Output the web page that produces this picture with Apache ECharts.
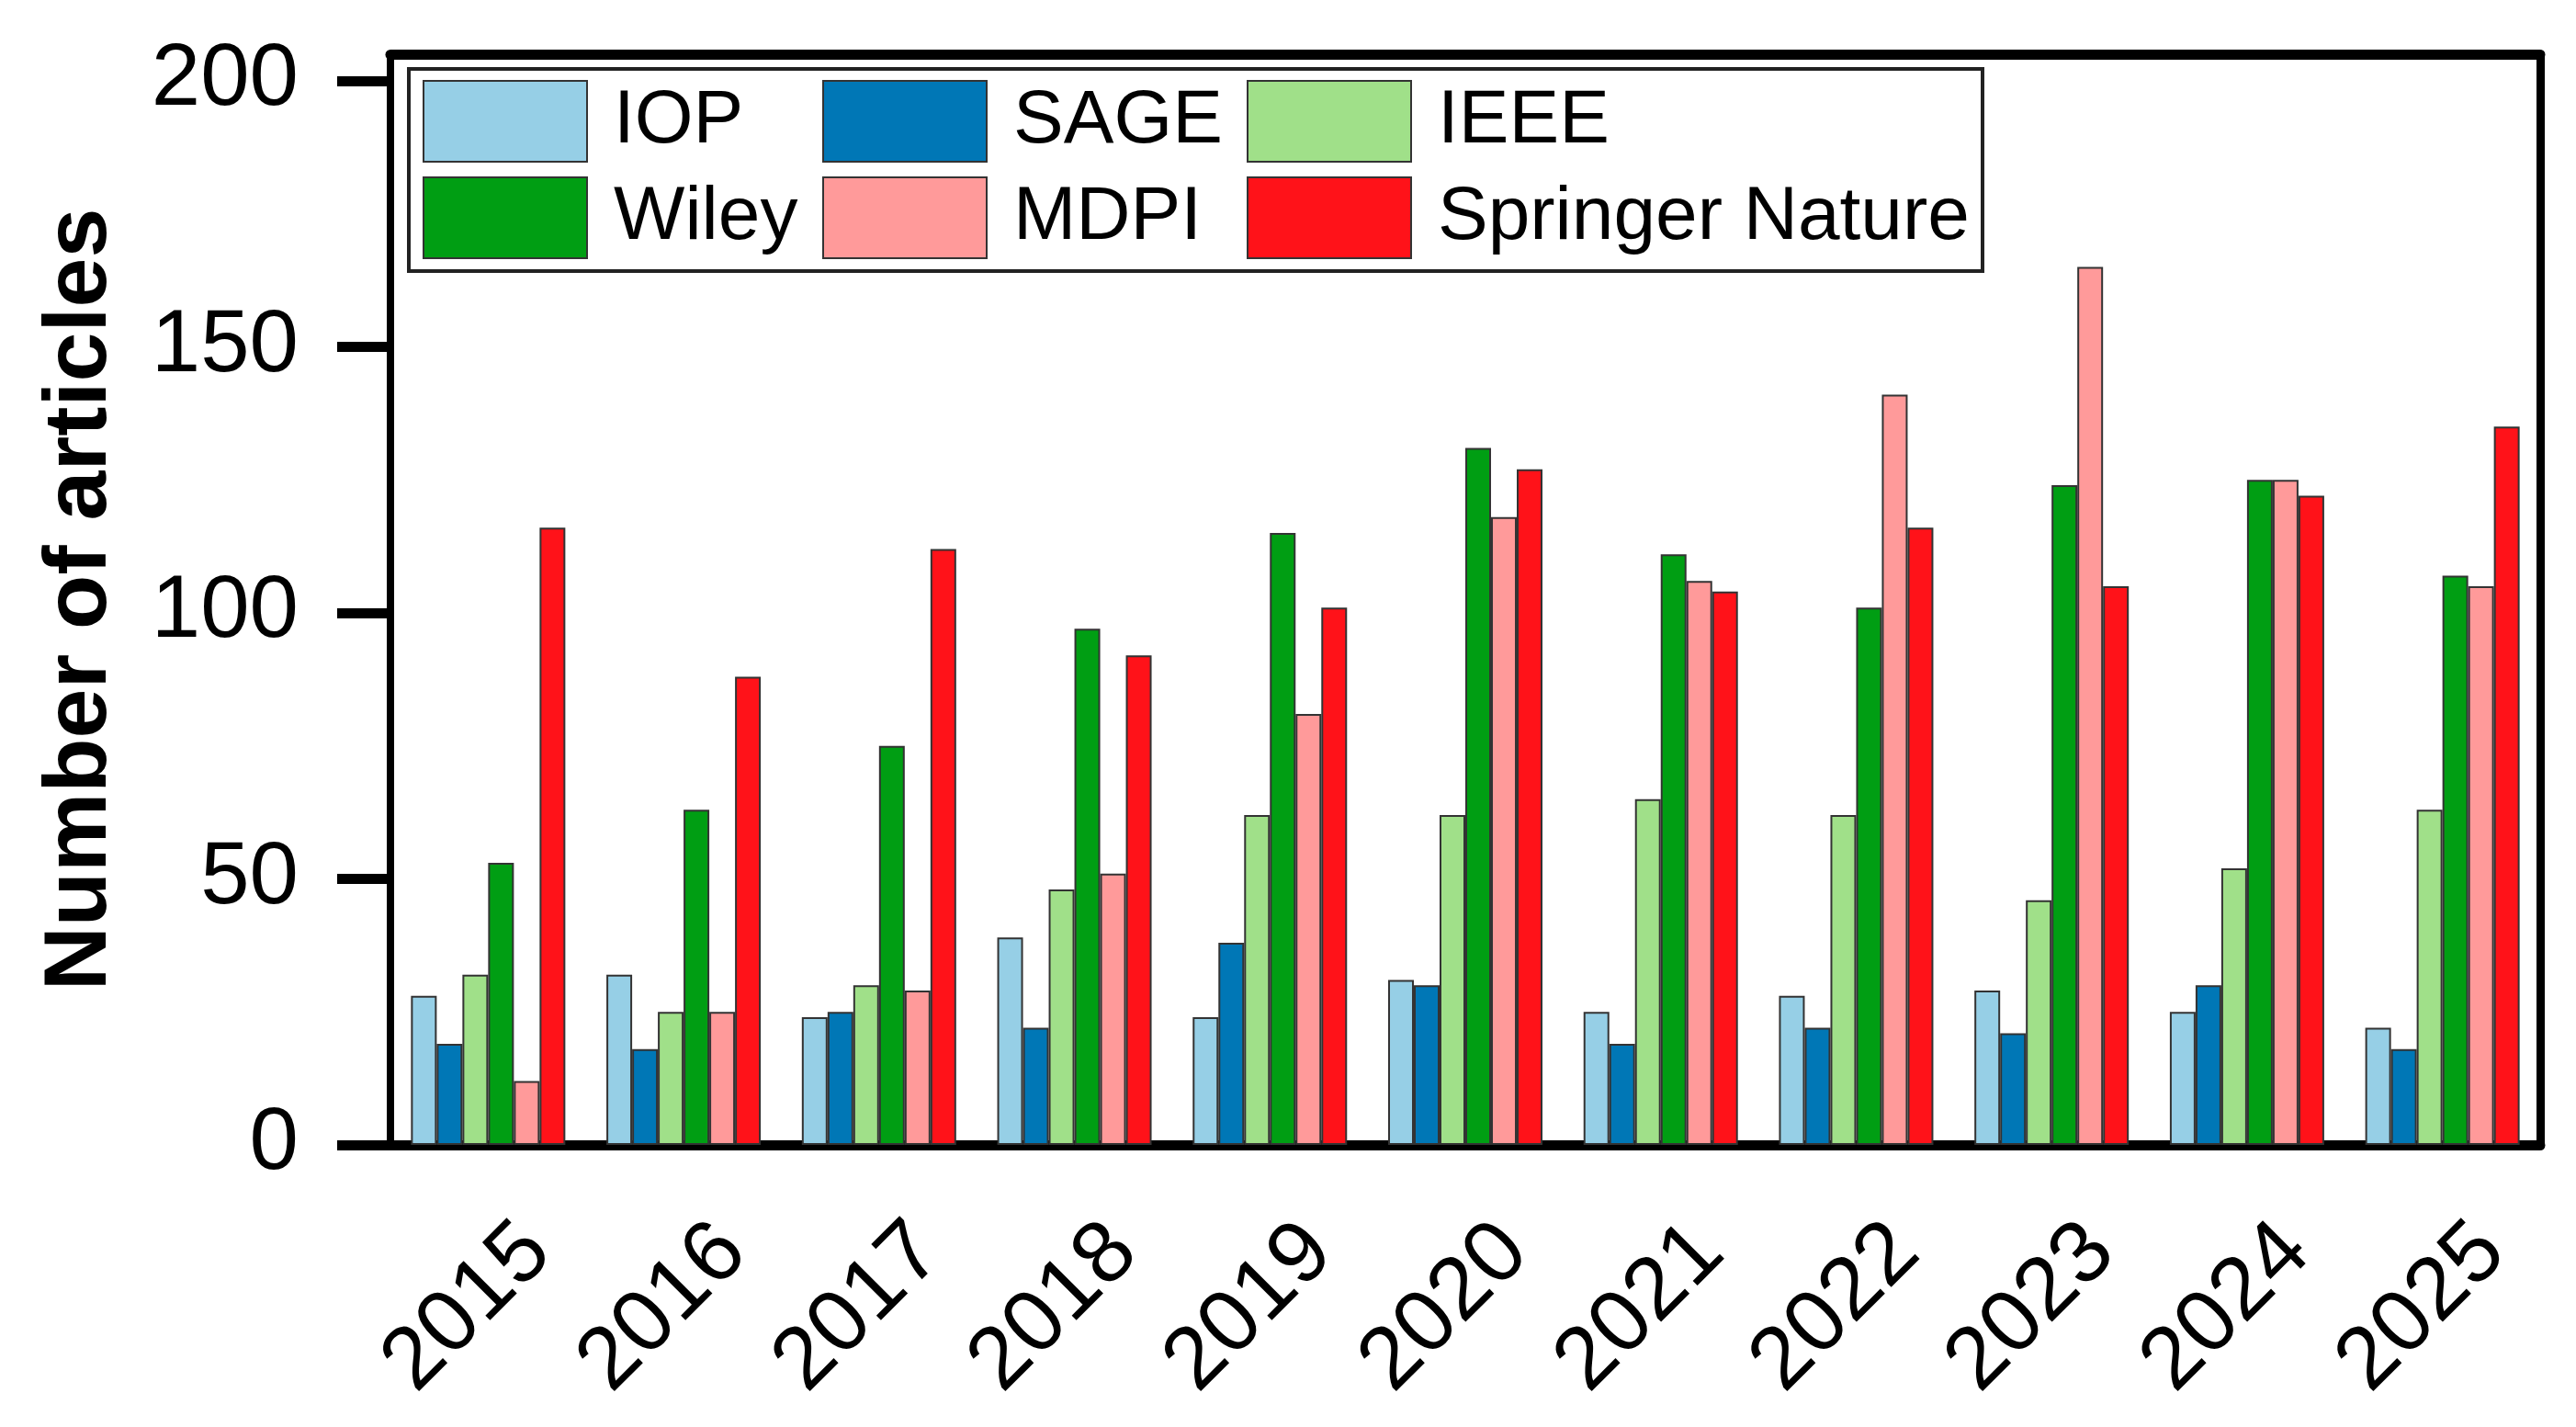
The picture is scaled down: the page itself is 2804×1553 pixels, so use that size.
<!DOCTYPE html>
<html>
<head>
<meta charset="utf-8">
<script src="https://cdn.jsdelivr.net/npm/echarts@6/dist/echarts.min.js"></script>
<style>html,body{margin:0;padding:0;background:#fff}#c{width:2804px;height:1553px}</style>
</head>
<body>
<div id="c"></div>
<script>
const years = ['2015','2016','2017','2018','2019','2020','2021','2022','2023','2024','2025'];
const IOP      = [28, 32, 24, 39, 24, 31, 25, 28, 29, 25, 22];
const SAGE     = [19, 18, 25, 22, 38, 30, 19, 22, 21, 30, 18];
const IEEE     = [32, 25, 30, 48, 62, 62, 65, 62, 46, 52, 63];
const Wiley    = [53, 63, 75, 97, 115, 131, 111, 101, 124, 125, 107];
const MDPI     = [12, 25, 29, 51, 81, 118, 106, 141, 165, 125, 105];
const Springer = [116, 88, 112, 92, 101, 127, 104, 116, 105, 122, 135];
const yTicks = [0, 50, 100, 150, 200];

const seriesDefs = [
  {name: 'IOP', data: IOP, color: '#96CFE6'},
  {name: 'SAGE', data: SAGE, color: '#0077B6'},
  {name: 'IEEE', data: IEEE, color: '#A0E089'},
  {name: 'Wiley', data: Wiley, color: '#009E13'},
  {name: 'MDPI', data: MDPI, color: '#FF9A9A'},
  {name: 'Springer Nature', data: Springer, color: '#FF1219'}
];

const FONT = 'Liberation Sans, Arial, sans-serif';
const legendText = {fontFamily: FONT, fontSize: 82, color: '#000', lineHeight: 88, padding: [0, 0, 0, 24]};
function legendCol(names, left) {
  return {
    data: names.map(n => ({name: n, icon: 'rect'})), orient: 'vertical', left: left, top: 87,
    itemWidth: 178, itemHeight: 88, itemGap: 15,
    textStyle: legendText, selectedMode: false, padding: 0
  };
}

const chart = echarts.init(document.getElementById('c'));
chart.setOption({
  animation: false,
  backgroundColor: '#fff',
  grid: {left: 425, right: 39, top: 59, bottom: 307, containLabel: false},
  legend: [
    legendCol(['IOP', 'Wiley'], 460),
    legendCol(['SAGE', 'MDPI'], 895),
    legendCol(['IEEE', 'Springer Nature'], 1357)
  ],
  graphic: [{
    type: 'rect', left: 443, top: 73, z: 1,
    shape: {width: 1713, height: 220},
    style: {fill: '#fff', stroke: '#222', lineWidth: 4}
  }],
  xAxis: [{
    type: 'category', data: years, boundaryGap: true,
    axisLine: {onZero: false, lineStyle: {color: '#000', width: 11}},
    axisTick: {alignWithLabel: true, length: 57, lineStyle: {color: '#000', width: 9}},
    axisLabel: {rotate: 45, fontSize: 96, fontFamily: FONT, color: '#000', margin: 48,
                verticalAlign: 'top', lineHeight: 96, padding: [28, 0, 0, 0]}
  }, {
    type: 'category', data: years, position: 'top', boundaryGap: true,
    axisLine: {show: true, onZero: false, lineStyle: {color: '#000', width: 11}},
    axisTick: {show: false}, axisLabel: {show: false}
  }],
  yAxis: [{
    type: 'value', min: 0, max: 205,
    name: 'Number of articles', nameLocation: 'middle', nameGap: 288,
    nameTextStyle: {fontSize: 97, fontWeight: 'bold', fontFamily: FONT, color: '#000'},
    splitLine: {show: false},
    axisLine: {show: true, onZero: false, lineStyle: {color: '#000', width: 8}},
    axisTick: {show: true, length: 58, customValues: yTicks, lineStyle: {color: '#000', width: 11}},
    axisLabel: {fontSize: 96, fontFamily: FONT, color: '#000', margin: 100, customValues: yTicks}
  }, {
    type: 'value', min: 0, max: 205, position: 'right',
    splitLine: {show: false},
    axisLine: {show: true, onZero: false, lineStyle: {color: '#000', width: 9}},
    axisTick: {show: false}, axisLabel: {show: false}
  }],
  series: seriesDefs.map(s => ({
    name: s.name, type: 'bar', data: s.data, xAxisIndex: 0, yAxisIndex: 0,
    barWidth: 28, barGap: '0%',
    itemStyle: {color: s.color, borderColor: '#333', borderWidth: 2}
  }))
});
</script>
</body>
</html>
